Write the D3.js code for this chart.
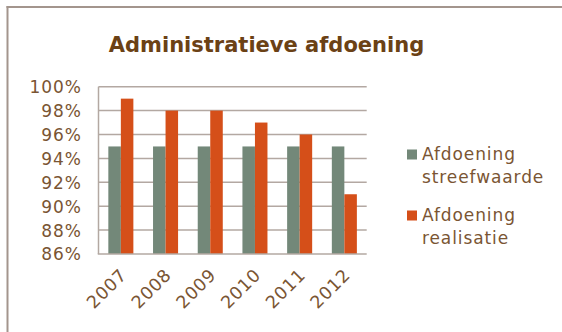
<!DOCTYPE html>
<html><head><meta charset="utf-8">
<script src="https://cdn.jsdelivr.net/npm/d3@7"></script>
<style>html,body{margin:0;padding:0;background:#fff;}</style>
</head><body>
<svg id="chart" width="562" height="332"></svg>
<script>
const categories = ["2007","2008","2009","2010","2011","2012"];
const seriesNames = ["Afdoening streefwaarde","Afdoening realisatie"];
const streefwaarde = [0.95,0.95,0.95,0.95,0.95,0.95];
const realisatie = [0.99,0.98,0.98,0.97,0.96,0.91];
const yTicks = [0.86,0.88,0.90,0.92,0.94,0.96,0.98,1.00];
const colors = ["#738879","#d54f19"];
const title = "Administratieve afdoening";

const svg = d3.select("#chart");
const font = "DejaVu Sans, Verdana, sans-serif";
const textColor = "#7a5533";

// frame
svg.append("line").attr("x1",7.5).attr("x2",7.5).attr("y1",6).attr("y2",332).attr("stroke","#a3958d").attr("stroke-width",2);
svg.append("line").attr("x1",6.5).attr("x2",562).attr("y1",7).attr("y2",7).attr("stroke","#a3958d").attr("stroke-width",2);

const m = {left:98.5, right:366.7, top:86.7, bottom:254};
const x = d3.scaleBand().domain(categories).range([m.left,m.right]).paddingInner(0.44).paddingOuter(0.22);
const x1 = d3.scaleBand().domain([0,1]).range([0,x.bandwidth()]);
const y = d3.scaleLinear().domain([0.86,1.0]).range([m.bottom,m.top]);

// gridlines
svg.append("g").selectAll("line").data(yTicks.slice(1)).join("line")
  .attr("x1",m.left).attr("x2",m.right)
  .attr("y1",d=>y(d)).attr("y2",d=>y(d))
  .attr("stroke","#b3a8a2").attr("stroke-width",1.5);

// bars
const data = categories.map((c,i)=>({c, v:[streefwaarde[i],realisatie[i]]}));
const g = svg.append("g");
data.forEach(d=>{
  d.v.forEach((v,j)=>{
    g.append("rect").attr("x",x(d.c)+x1(j)).attr("width",x1.bandwidth())
      .attr("y",y(v)).attr("height",y(0.86)-y(v)).attr("fill",colors[j]);
  });
});

// axes lines
svg.append("line").attr("x1",m.left).attr("x2",m.left).attr("y1",m.top).attr("y2",m.bottom).attr("stroke","#b3a8a2").attr("stroke-width",1.5);
svg.append("line").attr("x1",m.left-0.75).attr("x2",m.right).attr("y1",m.bottom).attr("y2",m.bottom).attr("stroke","#b3a8a2").attr("stroke-width",1.5);

// y axis labels
const yAxis = d3.axisLeft(y).tickValues(yTicks).tickFormat(d3.format(".0%")).tickSize(0).tickPadding(0);
const ya = svg.append("g").attr("transform",`translate(${82},0)`).call(yAxis);
ya.select(".domain").remove();
ya.selectAll("text").attr("font-family",font).attr("font-size",17).attr("letter-spacing","1px").attr("fill",textColor).attr("dy","0.35em");

// x axis labels
const xAxis = d3.axisBottom(x).tickSize(0).tickPadding(0);
const xa = svg.append("g").attr("transform",`translate(0,${m.bottom})`).call(xAxis);
xa.select(".domain").remove();
xa.selectAll("text").attr("font-family",font).attr("font-size",17.5).attr("letter-spacing","0.8px").attr("fill",textColor)
  .attr("text-anchor","end").attr("dy",null).attr("y",0).attr("x",0)
  .attr("transform","translate(7,22) rotate(-45)");

// title
svg.append("text").attr("x",266.5).attr("y",51.5).attr("text-anchor","middle")
  .attr("font-family",font).attr("font-weight","bold").attr("font-size",21)
  .attr("fill","#6b4115").text(title);

// legend
const legendLines = [["Afdoening","streefwaarde"],["Afdoening","realisatie"]];
legendLines.forEach((lines,i)=>{
  const yy = 160 + i*61;
  svg.append("rect").attr("x",407).attr("y",yy-10.5).attr("width",10).attr("height",10).attr("fill",colors[i]);
  lines.forEach((t,k)=>{
    svg.append("text").attr("x",422).attr("y",yy+k*23).attr("font-family",font).attr("font-size",17)
      .attr("letter-spacing","0.9px").attr("fill",textColor).text(t);
  });
});
</script>
</body></html>
